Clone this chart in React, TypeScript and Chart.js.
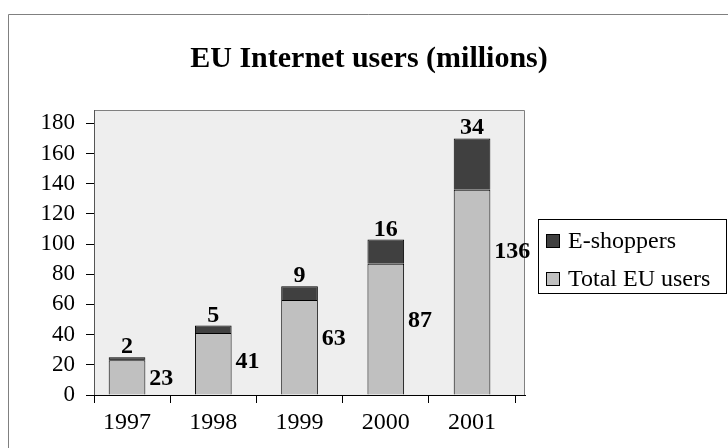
import React, { useEffect, useRef } from 'react';
import { Chart, registerables } from 'chart.js';

Chart.register(...registerables);

const TITLE = 'EU Internet users (millions)';
const YEARS = ['1997', '1998', '1999', '2000', '2001'];
const TOTAL_EU_USERS = [23, 41, 63, 87, 136];
const E_SHOPPERS = [2, 5, 9, 16, 34];
const SERIES_NAMES = ['Total EU users', 'E-shoppers'];
const Y_TICK_MAX = 180;
const Y_TICK_STEP = 20;
// where (in data units) the baseline of each "total" label sits, as in the original
const TOTAL_LABEL_BASELINE = [6.6, 17.9, 33.1, 45.1, 90.8];

const FONT = "'Liberation Serif', 'Times New Roman', Times, serif";
const LIGHT = '#c0c0c0';
const DARK = '#404040';

const decor = {
  id: 'decor',
  beforeDraw(chart: any) {
    const { ctx, chartArea: a } = chart;
    ctx.save();
    ctx.fillStyle = '#ffffff';
    ctx.fillRect(0, 0, chart.width, chart.height);
    // outer frame
    ctx.strokeStyle = '#808080';
    ctx.lineWidth = 1;
    ctx.beginPath();
    ctx.moveTo(8.5, chart.height);
    ctx.lineTo(8.5, 14.5);
    ctx.lineTo(chart.width, 14.5);
    ctx.stroke();
    // plot area
    ctx.fillStyle = '#eeeeee';
    ctx.fillRect(a.left, a.top, a.right - a.left, a.bottom - a.top);
    ctx.strokeStyle = '#808080';
    ctx.beginPath();
    ctx.moveTo(a.left, a.top + 0.5);
    ctx.lineTo(a.right - 0.5, a.top + 0.5);
    ctx.lineTo(a.right - 0.5, a.bottom);
    ctx.stroke();
    // title
    ctx.fillStyle = '#000';
    ctx.font = `bold 30px ${FONT}`;
    ctx.textAlign = 'center';
    ctx.textBaseline = 'alphabetic';
    ctx.fillText(TITLE, 369, 67);
    ctx.restore();
  },
  afterDraw(chart: any) {
    const { ctx, chartArea: a } = chart;
    const yScale = chart.scales.y;
    ctx.save();
    // tick at the axis start
    ctx.strokeStyle = '#000';
    ctx.lineWidth = 1;
    ctx.beginPath();
    ctx.moveTo(a.left + 0.5, a.bottom);
    ctx.lineTo(a.left + 0.5, a.bottom + 8);
    ctx.stroke();

    // data labels
    ctx.fillStyle = '#000';
    ctx.font = `bold 24px ${FONT}`;
    ctx.textBaseline = 'alphabetic';
    const metaTotal = chart.getDatasetMeta(0);
    const metaShop = chart.getDatasetMeta(1);
    metaShop.data.forEach((bar: any, i: number) => {
      const p = bar.getProps(['x', 'y'], true);
      ctx.textAlign = 'center';
      ctx.fillText(String(E_SHOPPERS[i]), p.x, p.y - 4);
    });
    metaTotal.data.forEach((bar: any, i: number) => {
      const p = bar.getProps(['x', 'width'], true);
      ctx.textAlign = 'left';
      ctx.fillText(
        String(TOTAL_EU_USERS[i]),
        p.x + p.width / 2 + 4,
        yScale.getPixelForValue(TOTAL_LABEL_BASELINE[i])
      );
    });

    // legend
    ctx.strokeStyle = '#000';
    ctx.strokeRect(538.5, 219.5, 188, 74);
    const rows = [
      { name: SERIES_NAMES[1], color: DARK, sq: 234, base: 248 },
      { name: SERIES_NAMES[0], color: LIGHT, sq: 272, base: 286 },
    ];
    ctx.font = `24px ${FONT}`;
    ctx.textAlign = 'left';
    rows.forEach((r) => {
      ctx.fillStyle = r.color;
      ctx.fillRect(546, r.sq, 13, 13);
      ctx.strokeStyle = '#000';
      ctx.strokeRect(546.5, r.sq + 0.5, 13, 13);
      ctx.fillStyle = '#000';
      ctx.fillText(r.name, 568, r.base);
    });
    ctx.restore();
  },
};

export default function App() {
  const ref = useRef<HTMLCanvasElement | null>(null);

  useEffect(() => {
    document.body.style.margin = '0';
    document.body.style.overflow = 'hidden';
    const canvas = ref.current;
    if (!canvas) return;
    Chart.defaults.font.family = FONT;
    const chart = new Chart(canvas, {
      type: 'bar',
      data: {
        datasets: [
          {
            label: SERIES_NAMES[0],
            data: TOTAL_EU_USERS.map((v, i) => ({ x: i, y: v })),
            backgroundColor: LIGHT,
            borderColor: '#000',
            borderWidth: 1,
            categoryPercentage: 1,
            barPercentage: 0.425,
          },
          {
            label: SERIES_NAMES[1],
            data: E_SHOPPERS.map((v, i) => ({ x: i, y: v })),
            backgroundColor: DARK,
            borderColor: '#000',
            borderWidth: 1,
            categoryPercentage: 1,
            barPercentage: 0.425,
          },
        ],
      },
      options: {
        animation: false,
        responsive: true,
        maintainAspectRatio: false,
        layout: { padding: { top: 110, right: 203, left: 0, bottom: 0 } },
        plugins: {
          legend: { display: false },
          title: { display: false },
          tooltip: { enabled: false },
        },
        scales: {
          x: {
            type: 'linear',
            stacked: true,
            offset: false,
            min: -0.383,
            max: 4.614,
            afterFit: (s: any) => {
              s.height = 53;
            },
            grid: {
              offset: true,
              drawOnChartArea: false,
              color: '#000',
              tickLength: 8,
            },
            border: { display: true, color: '#000', width: 1 },
            ticks: {
              stepSize: 1,
              includeBounds: false,
              autoSkip: false,
              maxRotation: 0,
              padding: 5,
              color: '#000',
              font: { size: 24, family: FONT },
              callback: (v: any) => YEARS[v] ?? '',
            },
          },
          y: {
            stacked: true,
            min: 0,
            max: 188.8,
            afterFit: (s: any) => {
              s.width = 94;
            },
            grid: {
              drawOnChartArea: false,
              color: '#000',
              tickLength: 8,
            },
            border: { display: true, color: '#555', width: 1 },
            ticks: {
              stepSize: Y_TICK_STEP,
              includeBounds: false,
              padding: 11,
              color: '#000',
              font: { size: 23, family: FONT },
              callback: (v: any) => (v <= Y_TICK_MAX ? String(v) : ''),
            },
          },
        },
      } as any,
      plugins: [decor],
    });
    return () => chart.destroy();
  }, []);

  return (
    <div style={{ position: 'relative', width: 728, height: 448 }}>
      <canvas ref={ref} />
    </div>
  );
}
